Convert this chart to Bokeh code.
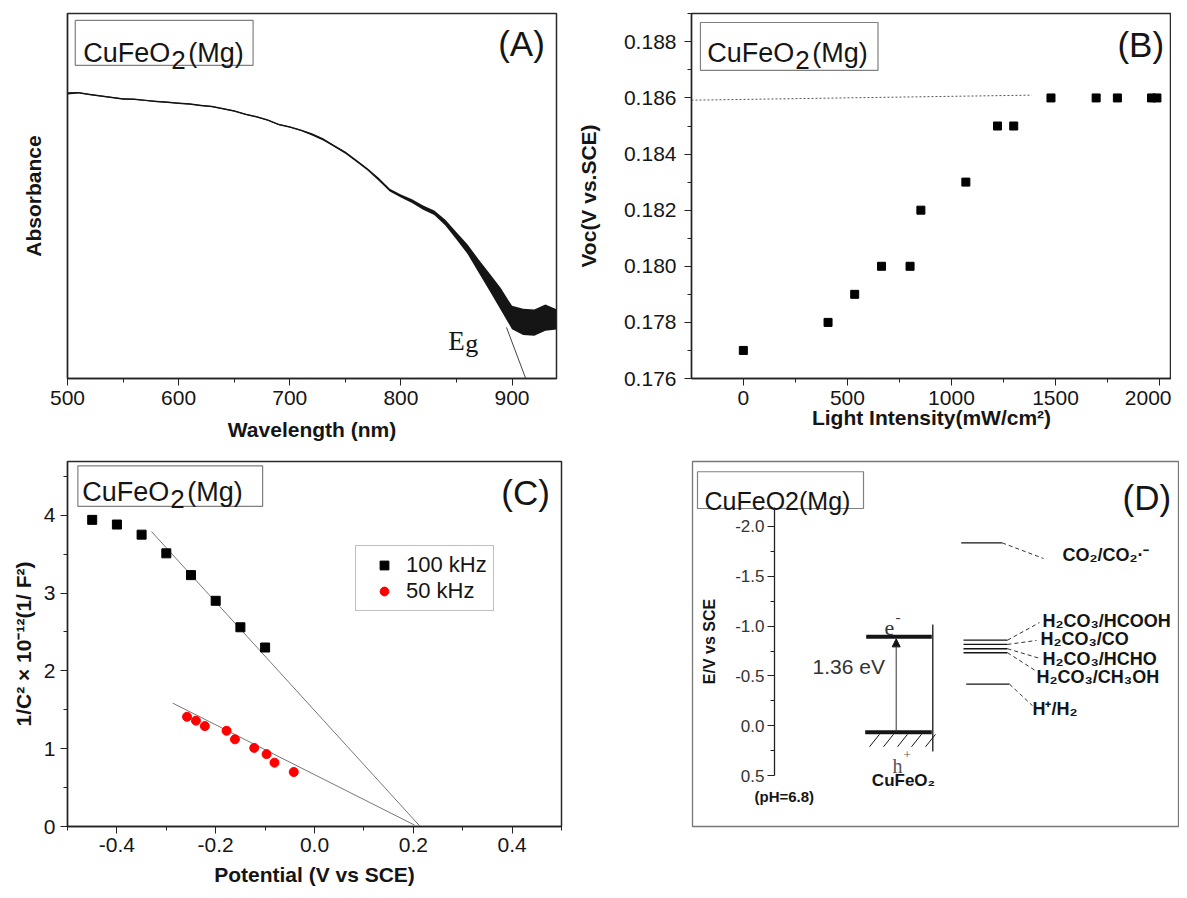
import numpy as np
from bokeh.plotting import figure
from bokeh.layouts import column, row
from bokeh.models import (Range1d, SingleIntervalTicker, FixedTicker, PrintfTickFormatter,
                          Legend, LegendItem, Arrow, NormalHead)
from bokeh.core.properties import value
from bokeh.embed import file_html
from bokeh.resources import INLINE

SANS = "Liberation Sans"
SERIF = "Liberation Serif"
INK = "#151515"

# ---------------- Panel A: absorbance spectrum ----------------
wavelength = [500, 510, 520, 530, 540, 550, 560, 570, 580, 590, 600, 610, 620, 630, 640,
              650, 660, 670, 680, 690, 700, 710, 720, 730, 740, 750, 760, 770, 780, 790,
              800, 810, 820, 830, 840, 850, 860, 870, 880, 890, 900, 910, 920, 930, 940]
absorbance = [0.781, 0.783, 0.778, 0.774, 0.770, 0.766, 0.765, 0.762, 0.759, 0.757, 0.754,
              0.752, 0.748, 0.745, 0.739, 0.733, 0.724, 0.717, 0.708, 0.696, 0.689, 0.680,
              0.669, 0.655, 0.637, 0.619, 0.596, 0.573, 0.546, 0.516, 0.500, 0.486, 0.468,
              0.454, 0.427, 0.391, 0.354, 0.308, 0.263, 0.217, 0.167, 0.155, 0.153, 0.167, 0.162]
noise_amp = [0.003, 0.002, 0.002, 0.002, 0.002, 0.002, 0.002, 0.002, 0.002, 0.002, 0.002,
             0.002, 0.002, 0.002, 0.002, 0.002, 0.002, 0.002, 0.002, 0.002, 0.002, 0.002,
             0.003, 0.003, 0.003, 0.003, 0.003, 0.003, 0.004, 0.004, 0.004, 0.005, 0.006,
             0.006, 0.008, 0.010, 0.013, 0.018, 0.024, 0.030, 0.032, 0.036, 0.036, 0.036, 0.028]
eg_x = [895.0, 912.3]
eg_y = [0.140, 0.0]

# ---------------- Panel B: Voc vs light intensity ----------------
intensity = [0, 407, 535, 664, 801, 853, 1069, 1221, 1299, 1478, 1695, 1797, 1961, 1987]
voc = [0.177, 0.178, 0.179, 0.180, 0.180, 0.182, 0.183, 0.185, 0.185, 0.186, 0.186, 0.186,
       0.186, 0.186]
voc_guide_x = [-249, 1385]
voc_guide_y = [0.18592, 0.18610]

# ---------------- Panel C: Mott-Schottky ----------------
pot_100k = [-0.45, -0.40, -0.35, -0.30, -0.25, -0.20, -0.15, -0.10]
ms_100k = [3.94, 3.88, 3.75, 3.51, 3.23, 2.90, 2.56, 2.30]
pot_50k = [-0.258, -0.240, -0.222, -0.178, -0.161, -0.122, -0.097, -0.081, -0.042]
ms_50k = [1.41, 1.36, 1.29, 1.23, 1.12, 1.01, 0.93, 0.82, 0.70]
fit_100k_x = [-0.330, 0.214]
fit_100k_y = [3.79, 0.0]
fit_50k_x = [-0.287, 0.202]
fit_50k_y = [1.585, 0.02]
legend_labels = ["100 kHz", "50 kHz"]

# ---------------- Panel D: band diagram ----------------
d_ticks = [-2.0, -1.5, -1.0, -0.5, 0.0, 0.5]
d_minor = [-1.75, -1.25, -0.75, -0.25, 0.25]
band_cb = -0.892
band_vb = 0.063
gap_label = "1.36 eV"
redox_levels = [-1.834, -0.859, -0.816, -0.773, -0.733, -0.418]
redox_labels = ["CO₂/CO₂·⁻", "H₂CO₃/HCOOH", "H₂CO₃/CO", "H₂CO₃/HCHO", "H₂CO₃/CH₃OH", "H⁺/H₂"]


def base_fig(w, h, xr, yr, l, r, t, b, **kw):
    p = figure(width=w, height=h, x_range=xr, y_range=yr, output_backend="svg",
               toolbar_location=None, min_border_left=l, min_border_right=r,
               min_border_top=t, min_border_bottom=b, **kw)
    p.xgrid.visible = False
    p.ygrid.visible = False
    p.outline_line_color = "#2a2a2a"
    p.outline_line_width = 1.5
    p.background_fill_color = "white"
    p.border_fill_color = "white"
    return p


def style_axis(ax, label, label_standoff, tick_fs="21px", label_fs="21px", tick_standoff=5):
    ax.axis_label = label
    ax.axis_line_color = "#222222"
    ax.axis_line_width = 1.3
    ax.major_tick_line_color = "#222222"
    ax.minor_tick_line_color = "#222222"
    ax.major_tick_out = 7
    ax.major_tick_in = 0
    ax.minor_tick_out = 4
    ax.minor_tick_in = 0
    ax.major_label_text_font = SANS
    ax.major_label_text_font_size = tick_fs
    ax.major_label_text_color = INK
    ax.major_label_standoff = tick_standoff
    ax.axis_label_text_font = SANS
    ax.axis_label_text_font_style = "bold"
    ax.axis_label_text_font_size = label_fs
    ax.axis_label_text_color = INK
    ax.axis_label_standoff = label_standoff


def sample_tag(p, x, y, box):
    left, right, bottom, top = box
    p.quad(left=[left], right=[right], bottom=[bottom], top=[top], fill_color=None,
           line_color="#808080", line_width=1.2)
    common = dict(text_font=value(SANS), text_color=INK, text_baseline="alphabetic",
                  text_align="left")
    p.text(x=[x], y=[y], text=["CuFeO"], text_font_size="27px", **common)
    p.text(x=[x], y=[y], text=["2"], text_font_size="26px", x_offset=88, y_offset=7, **common)
    p.text(x=[x], y=[y], text=["(Mg)"], text_font_size="27px", x_offset=105, **common)


def panel_letter(p, x, y, letter):
    p.text(x=[x], y=[y], text=[letter], text_font=value(SANS), text_font_size="35px",
           text_color=INK, text_baseline="middle", text_align="left")


# ---------- A ----------
pA = base_fig(570, 451, Range1d(500, 940), Range1d(0, 1), 67, 14, 13, 73)
style_axis(pA.xaxis[0], "Wavelength (nm)", 10)
pA.xaxis.ticker = SingleIntervalTicker(interval=100, num_minor_ticks=2)
style_axis(pA.yaxis[0], "Absorbance", 23, tick_standoff=0)
pA.yaxis.ticker = FixedTicker(ticks=[])
pA.yaxis.major_tick_out = 0
pA.yaxis.minor_tick_out = 0
lower = [a - n for a, n in zip(absorbance, noise_amp)]
upper = [a + n for a, n in zip(absorbance, noise_amp)]
pA.varea(x=wavelength, y1=lower, y2=upper, fill_color=INK)
pA.line(wavelength, absorbance, line_color=INK, line_width=1)
pA.line(eg_x, eg_y, line_color="#444444", line_width=1)
pA.text(x=[842.6], y=[0.103], text=["E"], text_font=value(SERIF), text_font_size="27px",
        text_color=INK, text_baseline="alphabetic")
pA.text(x=[842.6], y=[0.103], text=["g"], text_font=value(SERIF), text_font_size="26px",
        text_color=INK, text_baseline="alphabetic", x_offset=17, y_offset=3)
sample_tag(pA, 514.2, 0.893, (507, 667, 0.858, 0.981))
panel_letter(pA, 887.5, 0.918, "(A)")

# ---------- B ----------
pB = base_fig(601, 451, Range1d(-249, 2057), Range1d(0.176, 0.18901), 121, 0, 13, 73)
style_axis(pB.xaxis[0], "Light Intensity(mW/cm²)", -2)
pB.xaxis.ticker = SingleIntervalTicker(interval=500, num_minor_ticks=2)
style_axis(pB.yaxis[0], "Voc(V vs.SCE)", 21, tick_standoff=8)
pB.yaxis.ticker = SingleIntervalTicker(interval=0.002, num_minor_ticks=2)
pB.yaxis.formatter = PrintfTickFormatter(format="%.3f")
pB.line(voc_guide_x, voc_guide_y, line_dash="2 2", line_color="#555555", line_width=1)
pB.scatter(intensity, voc, marker="square", size=8, color="black")
sample_tag(pB, -173, 0.18761, (-206, 647, 0.18698, 0.18869))
panel_letter(pB, 1797, 0.1879, "(B)")

# ---------- C ----------
pC = base_fig(570, 441, Range1d(-0.5, 0.5), Range1d(0, 4.69), 67, 9, 10, 66)
style_axis(pC.xaxis[0], "Potential (V vs SCE)", 8, tick_standoff=4)
pC.xaxis.ticker = SingleIntervalTicker(interval=0.2, num_minor_ticks=2)
pC.xaxis.formatter = PrintfTickFormatter(format="%.1f")
style_axis(pC.yaxis[0], "1/C² × 10⁻¹²(1/ F²)", 6)
pC.yaxis.ticker = SingleIntervalTicker(interval=1, num_minor_ticks=2)
pC.line(fit_100k_x, fit_100k_y, line_color="#777777", line_width=1)
pC.line(fit_50k_x, fit_50k_y, line_color="#777777", line_width=1)
r100 = pC.scatter(pot_100k, ms_100k, marker="square", size=9, color="black")
r50 = pC.scatter(pot_50k, ms_50k, marker="circle", size=9, color="red")
leg = Legend(items=[LegendItem(label=legend_labels[0], renderers=[r100]),
                    LegendItem(label=legend_labels[1], renderers=[r50])],
             location=(288, 215), label_text_font=SANS, label_text_font_size="22px",
             label_text_color=INK, glyph_width=44, glyph_height=22, label_standoff=0,
             padding=6, spacing=0, margin=0, border_line_color="#808080",
             border_line_width=1.2, background_fill_alpha=1.0)
pC.add_layout(leg)
sample_tag(pC, -0.470, 4.293, (-0.479, -0.105, 4.113, 4.635))
panel_letter(pC, 0.378, 4.293, "(C)")

# ---------- D ----------
pD = base_fig(609, 441, Range1d(693, 1180), Range1d(1.009, -2.650), 122, 0, 9, 64,
              x_axis_location=None, y_axis_location="left")
pD.outline_line_color = "#777777"
pD.outline_line_width = 1.3
yax = pD.yaxis[0]
style_axis(yax, "E/V vs SCE", 14, tick_fs="17px", label_fs="16px", tick_standoff=3)
yax.fixed_location = 775
yax.bounds = (-2.19, 0.5)
yax.ticker = FixedTicker(ticks=d_ticks, minor_ticks=d_minor)
yax.formatter = PrintfTickFormatter(format="%.1f")
yax.major_label_text_color = "#333333"

# tag
pD.quad(left=[698], right=[864], bottom=[-2.179], top=[-2.547], fill_color=None,
        line_color="#808080", line_width=1.2)
pD.text(x=[705], y=[-2.259], text=["CuFeO2(Mg)"], text_font=value(SANS), text_font_size="25px",
        text_color=INK, text_baseline="alphabetic")
panel_letter(pD, 1123, -2.289, "(D)")
pD.text(x=[755], y=[0.706], text=["(pH=6.8)"], text_font=value(SANS), text_font_size="15px",
        text_font_style="bold", text_color=INK, text_baseline="middle")

# semiconductor bands
pD.segment(x0=[866.7, 865.7], y0=[band_cb, band_vb], x1=[932.3, 932.3], y1=[band_cb, band_vb],
           line_color=INK, line_width=4)
pD.segment(x0=[933.3], y0=[-1.015], x1=[933.3], y1=[0.256], line_color=INK, line_width=1.3)
hx = 870 + 14 * np.arange(5)
pD.segment(x0=hx, y0=[0.21] * 5, x1=hx + 10, y1=[0.085] * 5, line_color=INK, line_width=1)
pD.add_layout(Arrow(end=NormalHead(size=8, fill_color=INK, line_color=INK),
                    x_start=896.7, y_start=band_vb, x_end=896.7, y_end=band_cb + 0.02,
                    line_color="#333333", line_width=1))
pD.text(x=[885], y=[-0.982], text=["e"], text_font=value(SERIF), text_font_size="22px",
        text_color="#333333", text_baseline="alphabetic")
pD.text(x=[896], y=[-1.09], text=["-"], text_font=value(SERIF), text_font_size="15px",
        text_color="#333333", text_baseline="middle")
pD.text(x=[893], y=[0.40], text=["h"], text_font=value(SERIF), text_font_size="20px",
        text_color="#555555", text_baseline="alphabetic")
pD.text(x=[904], y=[0.29], text=["+"], text_font=value(SERIF), text_font_size="13px",
        text_color="#555555", text_baseline="middle")
pD.text(x=[904], y=[0.547], text=["CuFeO₂"], text_font=value(SANS), text_font_size="17px",
        text_font_style="bold", text_color=INK, text_baseline="middle", text_align="center")
pD.text(x=[813], y=[-0.597], text=[gap_label], text_font=value(SANS), text_font_size="21px",
        text_color="#333333", text_baseline="middle")

# redox levels
lvl_x0 = [961.7, 964, 964, 964, 964, 966.7]
lvl_x1 = [1002.7, 1008, 1008, 1008, 1008, 1010]
pD.segment(x0=lvl_x0, y0=redox_levels, x1=lvl_x1, y1=redox_levels, line_color=INK,
           line_width=1.3)
con_x1 = [1044, 1040, 1037, 1040, 1037, 1033]
con_y1 = [-1.678, -1.035, -0.856, -0.677, -0.547, -0.202]
pD.segment(x0=lvl_x1, y0=redox_levels, x1=con_x1, y1=con_y1, line_color="#333333",
           line_width=1, line_dash="4 3")
lab_x = [1063, 1043, 1041, 1043, 1037, 1033]
lab_y = [-1.71, -1.048, -0.866, -0.667, -0.485, -0.17]
lab_size = ["18px", "18px", "18px", "18px", "18px", "18px"]
pD.text(x=lab_x, y=lab_y, text=redox_labels, text_font=value(SANS), text_font_size=lab_size,
        text_font_style="bold", text_color=INK, text_baseline="middle", text_align="left")

layout = column(row(pA, pB), row(pC, pD))
open("out.html", "w").write(file_html(layout, INLINE, title="CuFeO2(Mg)"))
